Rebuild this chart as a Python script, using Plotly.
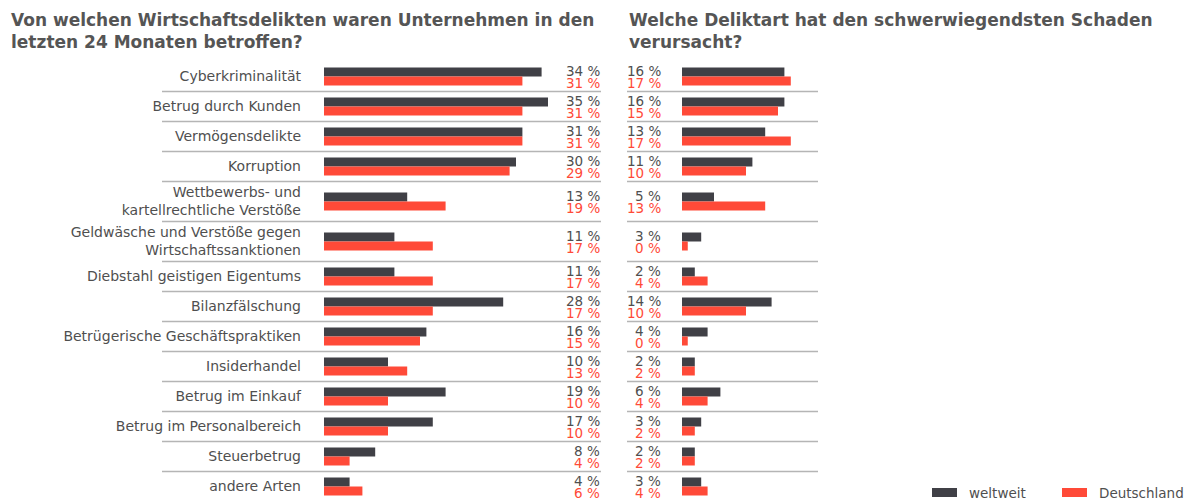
import plotly.graph_objects as go

# ---------------- data ----------------
categories = [
    "Cyberkriminalität",
    "Betrug durch Kunden",
    "Vermögensdelikte",
    "Korruption",
    "Wettbewerbs- und<br>kartellrechtliche Verstöße",
    "Geldwäsche und Verstöße gegen<br>Wirtschaftssanktionen",
    "Diebstahl geistigen Eigentums",
    "Bilanzfälschung",
    "Betrügerische Geschäftspraktiken",
    "Insiderhandel",
    "Betrug im Einkauf",
    "Betrug im Personalbereich",
    "Steuerbetrug",
    "andere Arten",
]
betroffen_weltweit = [34, 35, 31, 30, 13, 11, 11, 28, 16, 10, 19, 17, 8, 4]
betroffen_deutschland = [31, 31, 31, 29, 19, 17, 17, 17, 15, 13, 10, 10, 4, 6]
schaden_weltweit = [16, 16, 13, 11, 5, 3, 2, 14, 4, 2, 6, 3, 2, 3]
schaden_deutschland = [17, 15, 17, 10, 13, 0, 4, 10, 0, 2, 4, 2, 2, 4]

title_left = "Von welchen Wirtschaftsdelikten waren Unternehmen in den<br>letzten 24 Monaten betroffen?"
title_right = "Welche Deliktart hat den schwerwiegendsten Schaden<br>verursacht?"
series_names = ["weltweit", "Deutschland"]

# ---------------- styling ----------------
DARK = "#404046"
RED = "#ff4a38"
TEXT = "#4f4f4f"
TITLE = "#555555"
LINE = "#b5b5b5"
FONT = "DejaVu Sans, Verdana, sans-serif"
LBL = 13.5
CAT = 14
W, H = 1197, 500
TOP = 60
PX_UNIT = 30.0
ROW0_PX = 61.5
PX_PER_PCT = 6.4
XMAX = 45
MIN_VIS = 0.9  # minimal visible bar for 0 %

# row layout derived from number of label lines
heights = [1 + c.count("<br>") / 3 for c in categories]
centers, bounds = [], []
acc = 0.0
for h in heights:
    centers.append(acc + h / 2)
    acc += h
    bounds.append(acc)
bounds = bounds[:-1]

y_top = (TOP - ROW0_PX) / PX_UNIT
y_bot = (H - ROW0_PX) / PX_UNIT

left_start = 324
right_start = 682
span = XMAX * PX_PER_PCT
dom_left = [left_start / W, (left_start + span) / W]
dom_right = [right_start / W, (right_start + span) / W]

fig = go.Figure()

def vis(vals):
    return [max(v, MIN_VIS) for v in vals]

for vals, color, off, name, xa, ya in (
    (betroffen_weltweit, DARK, -0.3, series_names[0], "x", "y"),
    (betroffen_deutschland, RED, 0.0, series_names[1], "x", "y"),
    (schaden_weltweit, DARK, -0.3, series_names[0], "x2", "y2"),
    (schaden_deutschland, RED, 0.0, series_names[1], "x2", "y2"),
):
    fig.add_trace(go.Bar(x=vis(vals), y=centers, orientation="h", width=0.3, offset=off,
                         marker=dict(color=color, line=dict(width=0)), name=name,
                         showlegend=False, xaxis=xa, yaxis=ya, hoverinfo="skip"))

annotations = []
shapes = []
left_lbl_x = 601 / W
right_lbl_x = 662 / W
for i, c in enumerate(centers):
    for vals, xpos in ((betroffen_weltweit, left_lbl_x), (schaden_weltweit, right_lbl_x)):
        annotations.append(dict(x=xpos, y=c - 0.2, xref="paper", yref="y", xanchor="right", yanchor="middle",
                                text=f"{vals[i]} %", showarrow=False, borderpad=0,
                                font=dict(size=LBL, color=TEXT, family=FONT)))
    for vals, xpos in ((betroffen_deutschland, left_lbl_x), (schaden_deutschland, right_lbl_x)):
        annotations.append(dict(x=xpos, y=c + 0.2, xref="paper", yref="y", xanchor="right", yanchor="middle",
                                text=f"{vals[i]} %", showarrow=False, borderpad=0,
                                font=dict(size=LBL, color=RED, family=FONT)))

for b in bounds:
    shapes.append(dict(type="line", xref="paper", yref="y", x0=162 / W, x1=601 / W, y0=b, y1=b,
                       line=dict(color=LINE, width=1.5)))
    shapes.append(dict(type="line", xref="paper", yref="y", x0=627 / W, x1=818 / W, y0=b, y1=b,
                       line=dict(color=LINE, width=1.5)))

paper_y = lambda px: 1 + (TOP - px) / (H - TOP)
paper_x = lambda px: px / W
annotations.append(dict(x=paper_x(9), y=paper_y(8), xref="paper", yref="paper", xanchor="left", yanchor="top",
                        align="left", text=f"<b>{title_left}</b>", showarrow=False,
                        font=dict(size=17, color=TITLE, family=FONT)))
annotations.append(dict(x=paper_x(627), y=paper_y(8), xref="paper", yref="paper", xanchor="left", yanchor="top",
                        align="left", text=f"<b>{title_right}</b>", showarrow=False,
                        font=dict(size=17, color=TITLE, family=FONT)))

# legend (swatches + labels)
for name, color, sx in ((series_names[0], DARK, 932), (series_names[1], RED, 1062)):
    shapes.append(dict(type="rect", xref="paper", yref="paper", x0=paper_x(sx), x1=paper_x(sx + 25),
                       y0=paper_y(497), y1=paper_y(488), fillcolor=color, line=dict(width=0)))
    annotations.append(dict(x=paper_x(sx + 35), y=paper_y(492.5), xref="paper", yref="paper", xanchor="left",
                            yanchor="middle", text=name, showarrow=False,
                            font=dict(size=LBL, color=TEXT, family=FONT)))

fig.update_layout(
    width=W, height=H,
    margin=dict(l=0, r=0, t=TOP, b=0),
    paper_bgcolor="white", plot_bgcolor="white",
    barmode="overlay",
    showlegend=False,
    font=dict(family=FONT, color=TEXT, size=LBL),
    xaxis=dict(domain=dom_left, range=[0, XMAX], visible=False, fixedrange=True),
    xaxis2=dict(domain=dom_right, range=[0, XMAX], visible=False, anchor="y2", fixedrange=True),
    yaxis=dict(range=[y_bot, y_top], tickvals=centers, ticktext=categories, showgrid=False, zeroline=False,
               showline=False, ticks="", ticklabelstandoff=22, tickfont=dict(size=CAT, color=TEXT, family=FONT),
               anchor="x", fixedrange=True),
    yaxis2=dict(range=[y_bot, y_top], showticklabels=False, showgrid=False, zeroline=False, showline=False,
                anchor="x2", matches="y", fixedrange=True),
    annotations=annotations,
    shapes=shapes,
)

fig.write_html("out.html")
